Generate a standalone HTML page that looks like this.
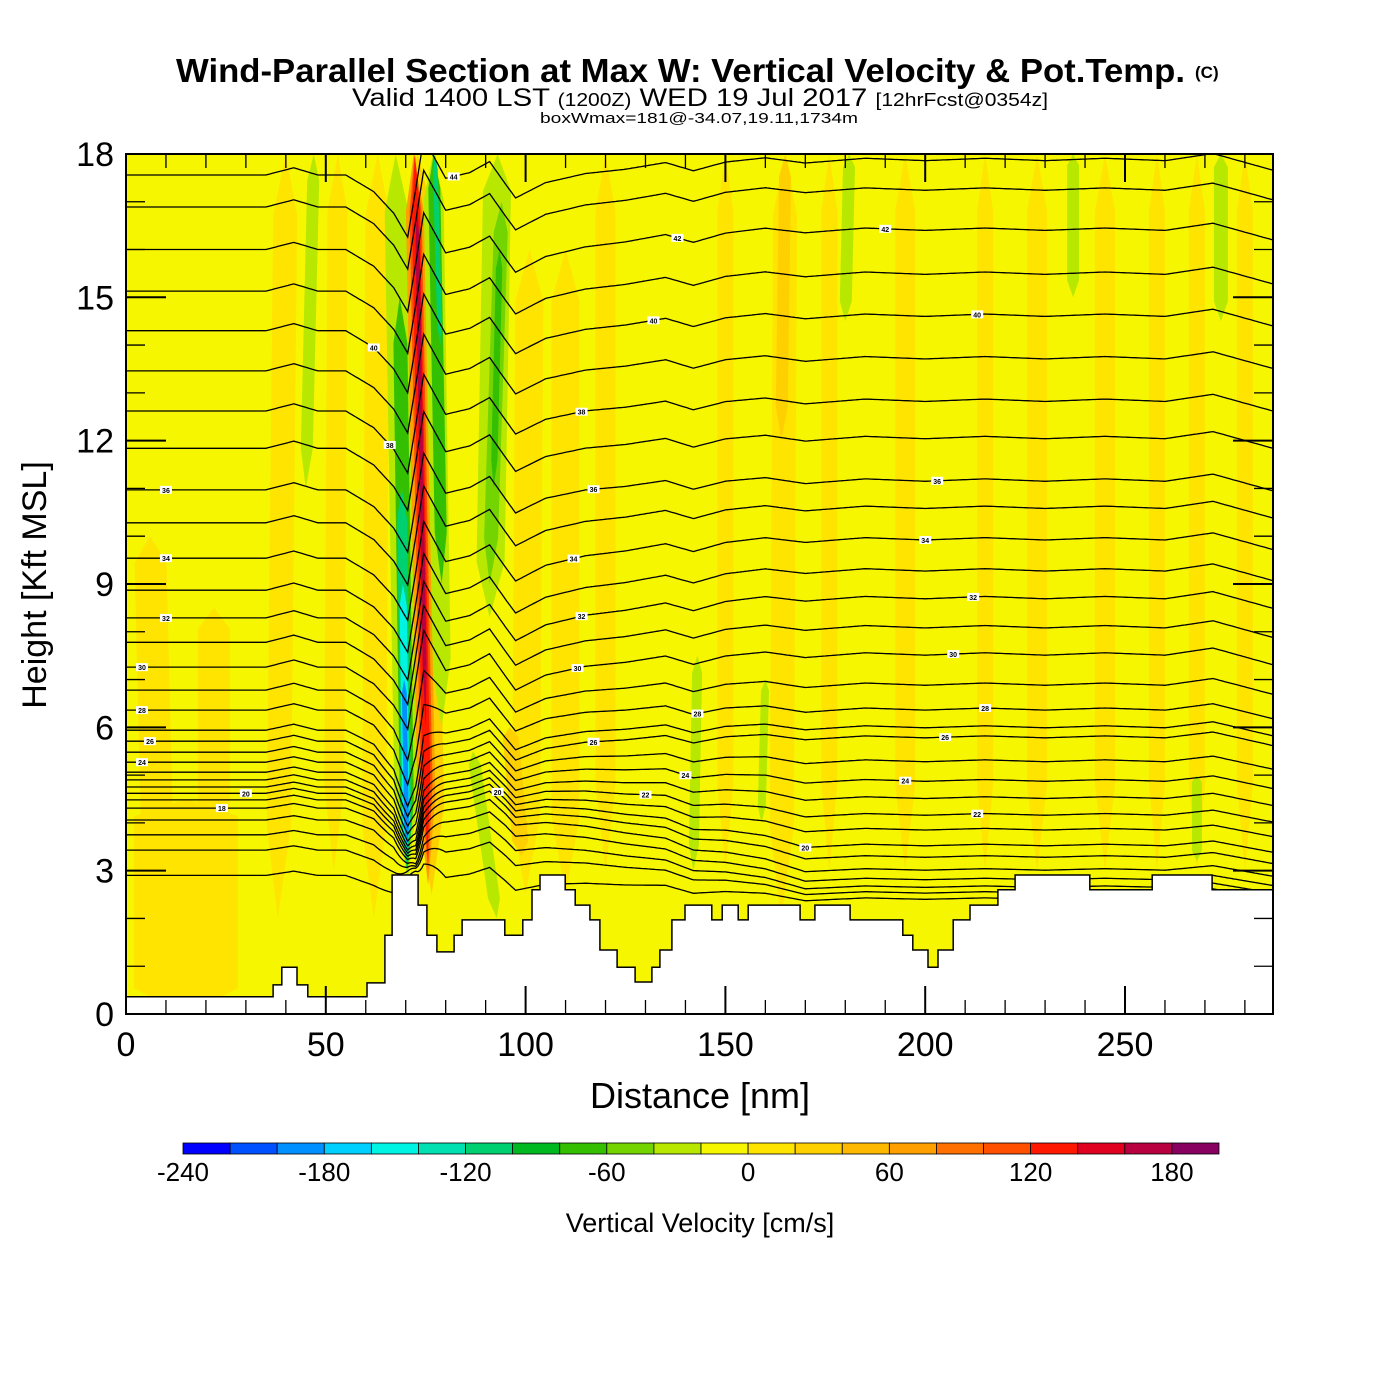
<!DOCTYPE html>
<html><head><meta charset="utf-8"><style>
html,body{margin:0;padding:0;background:#fff;}
svg{display:block;font-family:"Liberation Sans",Arial,sans-serif;}
</style></head><body>
<svg id="chart" xmlns="http://www.w3.org/2000/svg" width="1400" height="1400" viewBox="0 0 1400 1400">
<defs><clipPath id="plotclip"><rect x="126" y="154" width="1147" height="860"/></clipPath></defs>
<rect x="0" y="0" width="1400" height="1400" fill="#fff"/>
<g>
<text x="176" y="82" font-size="33" font-weight="bold" textLength="1009" lengthAdjust="spacingAndGlyphs">Wind-Parallel Section at Max W: Vertical Velocity &amp; Pot.Temp.</text>
<text x="1195" y="78" font-size="17" font-weight="bold">(C)</text>
<text x="352" y="106" font-size="25" textLength="696" lengthAdjust="spacingAndGlyphs">Valid 1400 LST <tspan font-size="18">(1200Z)</tspan> WED 19 Jul 2017 <tspan font-size="18">[12hrFcst@0354z]</tspan></text>
<text x="540" y="123" font-size="15" textLength="318" lengthAdjust="spacingAndGlyphs">boxWmax=181@-34.07,19.11,1734m</text>
</g>
<g id="plot" clip-path="url(#plotclip)">
<rect x="126" y="154" width="1147" height="860" fill="#f6f600"/>
<g id="field"></g>
<g id="contours"></g>
<g id="terrain"></g>
<g id="clabels"></g>
</g>
<rect x="126" y="154" width="1147" height="860" fill="none" stroke="#000" stroke-width="2"/>
<g id="axes"></g>
<text x="700" y="1108" font-size="36" text-anchor="middle">Distance [nm]</text>
<text x="0" y="0" font-size="34" text-anchor="middle" transform="translate(46,585) rotate(-90)">Height [Kft MSL]</text>
<g id="colorbar"></g>
<text x="700" y="1232" font-size="27" text-anchor="middle">Vertical Velocity [cm/s]</text>
</svg>
<script>
// ---------- data ----------
const xTicks = [0, 50, 100, 150, 200, 250];
const yTicks = [0, 3, 6, 9, 12, 15, 18];
const cbarColors = ["#0000ff","#0050ff","#0090ff","#00d0ff","#00f4e4","#00e0b0","#00d070","#00b820","#34c000","#74d400","#b8e800","#f6f600","#ffe400","#ffd000","#ffb800","#ffa000","#ff7000","#ff5000","#ff1800","#e00020","#b80040","#880060"];
const cbarLabels = [-240, -180, -120, -60, 0, 60, 120, 180];
// theta levels and their heights at the left edge (kft)
const thetaLevels = [44,43,42,41,40,39,38,37,36,35,34,33,32,31,30,29,28,27,26,25,24,23,22,21,20,19,18,17,16,15,14];
const thetaLeftH = [17.56,16.89,16.0,15.13,14.3,13.46,12.62,11.84,10.97,10.28,9.54,8.87,8.29,7.78,7.26,6.78,6.36,5.94,5.71,5.48,5.27,5.06,4.9,4.75,4.62,4.48,4.31,4.06,3.75,3.43,2.9];
const thetaRightOff = [0.3,0.35,0.4,0.35,0.3,0.25,0.2,0.2,0.18,0.3,0.38,0.4,0.4,0.3,0.25,0.1,0,0.05,0.07,-0.2,-0.4,-0.55,-0.74,-0.9,-1.1,-1.2,-1.3,-1.25,-1.1,-0.9,-0.5];
// wave-disturbance profile along the section (nm / kft)
const ctrlX   = [0,20,35,42,48,55,62,67,70.5,72.5,74.5,80,86,91,97.5,105,115,125,135,142,150,160,170,185,200,215,230,245,260,272,287];
const waveOff = [0,0,0,0.15,0,0,-0.35,-0.8,-1.3,-0.3,0.77,-0.07,0.05,0.28,-0.49,-0.2,-0.05,0,0.1,-0.1,0.05,0.1,-0.05,0.05,0,0.05,0,0.05,0,0.15,-0.2];
const convW   = [0,0,0,0,0,0,0,0.2,0.85,1,0.6,0,0,0,0,0,0,0,0,0,0,0,0,0,0,0,0,0,0,0,0];
// terrain steps: start distance (nm) and height (kft)
const terrainX = [0,36.8,39.0,42.8,45.5,60.3,64.8,66.6,73.1,75.3,77.8,82.1,84.1,94.8,99.3,101.6,103.6,109.9,112.4,116.1,118.6,122.9,127.4,131.6,133.6,136.6,139.9,146.6,149.2,153.2,155.7,168.7,172.4,181.2,194.4,196.9,200.7,203.2,207.0,211.2,218.2,222.5,241.2,256.8,271.8];
const terrainH = [0.36,0.61,0.98,0.61,0.36,0.65,1.65,2.91,2.28,1.65,1.30,1.65,1.97,1.65,1.97,2.6,2.91,2.6,2.28,1.97,1.34,0.98,0.67,0.98,1.34,1.97,2.28,1.97,2.28,1.97,2.28,1.97,2.28,1.97,1.65,1.34,0.98,1.34,1.97,2.28,2.6,2.91,2.6,2.91,2.6];
// vertical-velocity streaks: bottom/top centre (nm), width (nm), bottom/top (kft), value (cm/s)
const streakX0  = [15,8,22,38,52,62,76.5,110,120,100,164,164,150,176,195,215,228,245,258,268,280,99,45,91,142,159,180,237,274,268,92.8,91,92,70.5,70.5,70.3,70.2,70.3,79,79,78.6,75.6,75.6,75.5,75];
const streakX1  = [15,6,22,40,53,63,73,110,120,101,165,165,150,176,195,215,228,245,258,268,280,96,47,93,143,160,181,237,274,268,86.8,94,93.5,67.5,68.5,69,69.3,69.6,76.8,77,77.3,72,72.2,72.3,72.8];
const streakWid = [26,8,8,6,5,6,7,7,5,7,6,3,4,4,5,4,5,5,4,4,4,4,3,7,2.5,2,3,3,3.5,2.5,3,3.5,1.6,6,3.5,2.5,1.8,1.2,5,3,1.2,4.5,3.0,2.0,1.0];
const streakBot = [0,3,3,2,3,2,2.5,2.5,3,2.5,2,12,3,3,3,3,3,3,3,3,3,3.3,11,8.3,3,4,14.5,15,14.5,3.2,2,9,11,2.8,3,3,3.3,3.5,6,9,14,2.7,3,3.3,6];
const streakTop = [4.5,10,8.5,18,18,18,18,16,18,16,18,18,18,18,18,18,18,18,18,18,18,6,18,18,7.5,7,18,18,18,5,5.5,17,16,18,15,11,9,7,18,18,18,18,18,18,17];
const streakVal = [10,10,10,10,10,10,30,10,10,10,10,30,10,10,10,10,10,10,10,10,10,30,-30,-30,-30,-30,-30,-30,-30,-30,-30,-50,-70,-30,-70,-110,-150,-190,-30,-70,-110,70,110,130,165];
// contour label positions (theta, distance nm)
const labelTheta = [44,42,42,40,40,40,38,38,36,36,36,34,34,34,32,32,32,30,30,30,28,28,28,26,26,26,24,24,24,22,22,20,20,20,18];
const labelDist  = [82,138,190,62,132,213,66,114,10,117,203,10,112,200,10,114,212,4,113,207,4,143,215,6,117,205,4,140,195,130,213,30,93,170,24];

// ---------- helpers ----------
const NS = "http://www.w3.org/2000/svg";
const X = nm => 126 + nm * 3.996;
const Y = k => 1014 - k * 47.78;
function interp(xs, ys, x) {
  if (x <= xs[0]) return ys[0];
  for (let i = 1; i < xs.length; i++) {
    if (x <= xs[i]) { const t = (x - xs[i-1]) / (xs[i] - xs[i-1]); return ys[i-1] + t * (ys[i] - ys[i-1]); }
  }
  return ys[ys.length - 1];
}
const clamp = (v, a, b) => Math.max(a, Math.min(b, v));
function el(tag, parent) { const e = document.createElementNS(NS, tag); parent.appendChild(e); return e; }
function colorFor(w) { const idx = clamp(Math.floor((w + 240) / 20), 0, cbarColors.length - 1); return cbarColors[idx]; }
function thetaH(i, x) {
  const hL = thetaLeftH[i];
  const f = clamp((7.2 - hL) / 3.2, 0, 1);
  const off = interp(ctrlX, waveOff, x) * (1 - 0.4 * f);
  const rt = thetaRightOff[i] * clamp((x - 95) / 75, 0, 1);
  const base = hL + off + rt;
  const c = interp(ctrlX, convW, x) * f;
  const target = 3.0 + 0.12 * (hL - 3);
  return (1 - c) * base + c * target;
}

// ---------- velocity field ----------
const field = document.getElementById("field");
const order = streakVal.map((v, i) => i).sort((a, b) => Math.abs(streakVal[a]) - Math.abs(streakVal[b]));
for (const i of order) {
  const b = streakBot[i], t = streakTop[i], len = t - b;
  const cx = k => streakX0[i] + (streakX1[i] - streakX0[i]) * (k - b) / len;
  const hw = streakWid[i] / 2;
  const k1 = b + 0.12 * len, k2 = t - 0.08 * len;
  const pts = [[cx(b), b], [cx(k1) - hw, k1], [cx(k2) - hw, k2], [cx(t), t], [cx(k2) + hw, k2], [cx(k1) + hw, k1]];
  const p = el("polygon", field);
  p.setAttribute("points", pts.map(q => X(q[0]).toFixed(1) + "," + Y(q[1]).toFixed(1)).join(" "));
  p.setAttribute("fill", colorFor(streakVal[i]));
  
  
}

// ---------- theta contours ----------
const cg = document.getElementById("contours");
for (let i = 0; i < thetaLevels.length; i++) {
  const pts = [];
  for (let x = 0; x <= 287.5; x += 0.5) pts.push(X(x).toFixed(1) + "," + Y(thetaH(i, x)).toFixed(1));
  const pl = el("polyline", cg);
  pl.setAttribute("points", pts.join(" "));
  pl.setAttribute("fill", "none");
  pl.setAttribute("stroke", "#000");
  pl.setAttribute("stroke-width", "1.3");
  
  
}

// ---------- terrain ----------
const tg = document.getElementById("terrain");
let tp = [[X(0), 1016]];
for (let i = 0; i < terrainX.length; i++) {
  const x0 = X(terrainX[i]), x1 = X(i + 1 < terrainX.length ? terrainX[i + 1] : 287.5);
  tp.push([x0, Y(terrainH[i])], [x1, Y(terrainH[i])]);
}
tp.push([X(287.5), 1016]);
const terr = el("polygon", tg);
terr.setAttribute("points", tp.map(q => q[0].toFixed(1) + "," + q[1].toFixed(1)).join(" "));
terr.setAttribute("fill", "#fff");
terr.setAttribute("stroke", "#000");
terr.setAttribute("stroke-width", "1.5");



// ---------- contour labels ----------
const lg = document.getElementById("clabels");
for (let j = 0; j < labelTheta.length; j++) {
  const i = thetaLevels.indexOf(labelTheta[j]);
  if (i < 0) continue;
  const px = X(labelDist[j]), py = Y(thetaH(i, labelDist[j]));
  const r = el("rect", lg);
  r.setAttribute("x", px - 6); r.setAttribute("y", py - 4); r.setAttribute("width", 12); r.setAttribute("height", 8);
  r.setAttribute("fill", "#fff");
  
  
  const tx = el("text", lg);
  tx.setAttribute("x", px); tx.setAttribute("y", py + 3);
  tx.setAttribute("font-size", "7"); tx.setAttribute("font-weight", "bold"); tx.setAttribute("text-anchor", "middle");
  tx.textContent = labelTheta[j];
  
  
}

// ---------- axes ----------
const ag = document.getElementById("axes");
function line(x1, y1, x2, y2, w, name) {
  const l = el("line", ag);
  l.setAttribute("x1", x1); l.setAttribute("y1", y1); l.setAttribute("x2", x2); l.setAttribute("y2", y2);
  l.setAttribute("stroke", "#000"); l.setAttribute("stroke-width", w);
  
  
}
for (let k = 1; k < 18; k++) {
  const major = k % 3 === 0, len = major ? 40 : 19, y = Y(k);
  line(126, y, 126 + len, y, major ? 2 : 1.3, "y-tick");
  line(1273 - len, y, 1273, y, major ? 2 : 1.3, "y-tick-right");
}
for (let d = 10; d < 287; d += 10) {
  const major = d % 50 === 0, len = major ? 28 : 14, x = X(d);
  line(x, 1014, x, 1014 - len, major ? 2 : 1.3, "x-tick");
  line(x, 154, x, 154 + len, major ? 2 : 1.3, "x-tick-top");
}
for (const v of yTicks) {
  const t = el("text", ag);
  t.setAttribute("x", 114); t.setAttribute("y", Y(v) + 12);
  t.setAttribute("font-size", "34"); t.setAttribute("text-anchor", "end");
  t.textContent = v;
  
  
}
for (const v of xTicks) {
  const t = el("text", ag);
  t.setAttribute("x", X(v)); t.setAttribute("y", 1056);
  t.setAttribute("font-size", "34"); t.setAttribute("text-anchor", "middle");
  t.textContent = v;
  
  
}

// ---------- colorbar ----------
const cb = document.getElementById("colorbar");
const cbX = v => 183 + (v + 240) * (47.09 / 20);
for (let i = 0; i < cbarColors.length; i++) {
  const r = el("rect", cb);
  const v0 = -240 + i * 20;
  r.setAttribute("x", cbX(v0)); r.setAttribute("y", 1143); r.setAttribute("width", 47.09); r.setAttribute("height", 11);
  r.setAttribute("fill", cbarColors[i]); r.setAttribute("stroke", "#000"); r.setAttribute("stroke-width", "0.8");
  
  
}
for (const v of cbarLabels) {
  const t = el("text", cb);
  t.setAttribute("x", cbX(v)); t.setAttribute("y", 1181);
  t.setAttribute("font-size", "26"); t.setAttribute("text-anchor", "middle");
  t.textContent = v;
  
  
}
</script>
</body></html>
